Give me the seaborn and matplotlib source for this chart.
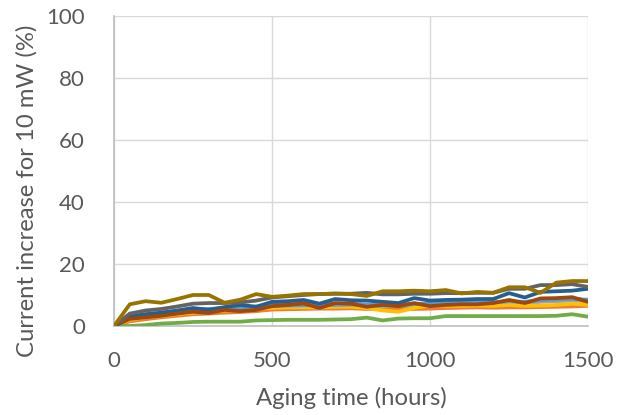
import matplotlib
matplotlib.use("Agg")
import matplotlib.pyplot as plt
import numpy as np
import pandas as pd
import seaborn as sns

# Aging time (hours)
hours = list(range(0, 1501, 50))

blue = [0, 2.8, 3.5, 4.0, 4.6, 5.2, 5.3, 5.8, 5.9, 6.1, 6.8, 7.0, 7.1, 6.8, 7.2, 7.2,
        6.8, 6.5, 5.5, 6.5, 7.0, 7.1, 7.2, 7.3, 7.5, 7.8, 7.6, 8.2, 8.4, 8.8, 8.2]
orange = [0, 1.5, 2.2, 2.8, 3.3, 3.8, 4.0, 4.3, 4.5, 4.8, 5.3, 5.4, 5.5, 5.6, 5.6, 5.7,
          5.5, 5.5, 5.4, 5.5, 5.6, 5.8, 5.9, 6.0, 5.9, 6.0, 6.0, 6.1, 6.2, 6.3, 6.5]
gray = [0, 2.5, 3.2, 3.8, 4.2, 4.8, 5.0, 5.3, 5.5, 5.8, 6.0, 6.1, 6.2, 6.2, 6.3, 6.4,
        6.4, 6.3, 6.5, 6.6, 6.8, 6.9, 7.0, 7.1, 7.1, 7.5, 7.3, 7.8, 8.0, 8.2, 8.0]
yellow = [0, 2.0, 2.8, 3.2, 3.8, 4.3, 4.5, 5.0, 5.2, 5.5, 5.8, 6.0, 6.0, 6.0, 6.2, 6.2,
          5.8, 5.0, 4.6, 5.8, 6.6, 6.5, 6.5, 6.6, 6.5, 6.8, 6.5, 6.6, 6.8, 7.2, 6.8]
light_blue = [0, 2.9, 3.7, 4.3, 4.7, 5.3, 5.5, 5.8, 6.0, 6.3, 6.5, 6.6, 6.7, 6.7, 6.8, 6.9,
              6.9, 6.8, 7.0, 7.1, 7.3, 7.4, 7.5, 7.6, 7.6, 8.0, 7.8, 8.3, 8.5, 8.7, 8.5]
green = [0, 0, 0.3, 0.8, 1.0, 1.3, 1.4, 1.4, 1.4, 1.8, 1.9, 2.0, 2.0, 2.0, 2.1, 2.2,
         2.7, 1.8, 2.4, 2.5, 2.5, 3.2, 3.2, 3.2, 3.2, 3.2, 3.2, 3.2, 3.3, 3.8, 3.0]
dark_blue = [0, 3.0, 3.8, 4.3, 5.0, 5.8, 5.2, 6.1, 6.8, 6.2, 7.8, 8.0, 8.4, 7.2, 8.7, 8.3,
             8.2, 7.8, 7.4, 9.0, 8.2, 8.4, 8.5, 8.7, 8.7, 10.6, 9.2, 11.0, 11.2, 11.4, 12.0]
brown = [0, 2.3, 2.8, 3.3, 4.0, 4.6, 4.2, 5.2, 4.8, 5.2, 6.4, 6.8, 7.3, 5.8, 7.4, 7.2,
         6.2, 6.8, 6.4, 7.4, 6.4, 6.8, 7.0, 7.0, 7.4, 8.4, 7.4, 8.9, 9.0, 9.3, 7.8]
dark_gray = [0, 4.0, 5.0, 5.5, 6.3, 7.2, 7.4, 7.4, 7.6, 8.2, 9.2, 9.6, 10.0, 10.3, 10.4, 10.4,
             10.7, 10.2, 10.2, 10.4, 10.4, 10.6, 10.6, 10.7, 10.7, 12.0, 12.0, 13.2, 13.2, 13.5, 12.6]
olive = [0, 7.0, 8.0, 7.5, 8.7, 10.0, 10.0, 7.5, 8.5, 10.3, 9.4, 9.8, 10.3, 10.3, 10.5, 10.3,
         9.7, 11.2, 11.2, 11.4, 11.2, 11.6, 10.5, 11.0, 10.7, 12.5, 12.5, 10.7, 14.0, 14.5, 14.5]

series_names = ["S1", "S2", "S3", "S4", "S5", "S6", "S7", "S8", "S9", "S10"]
series_values = [blue, orange, gray, yellow, light_blue, green, dark_blue, brown, dark_gray, olive]
series_colors = ["#4472C4", "#ED7D31", "#A5A5A5", "#FFC000", "#5B9BD5",
                 "#70AD47", "#255E91", "#9E480E", "#636363", "#997300"]

x_ticks = [0, 500, 1000, 1500]
y_ticks = [0, 20, 40, 60, 80, 100]

frames = [pd.DataFrame({"hours": hours, "value": vals, "series": name})
          for name, vals in zip(series_names, series_values)]
df = pd.concat(frames, ignore_index=True)

sns.set_style("white")
plt.rcParams["font.family"] = ["Lato", "DejaVu Sans"]

fig = plt.figure(figsize=(6.26, 4.15), dpi=100)
ax = fig.add_axes([114 / 626, 89 / 415, 474 / 626, 310 / 415])

sns.lineplot(data=df, x="hours", y="value", hue="series", hue_order=series_names,
             palette=dict(zip(series_names, series_colors)), linewidth=2.7,
             legend=False, ax=ax, zorder=3)

ax.set_xlim(0, 1500)
ax.set_ylim(0, 100)
ax.set_xticks(x_ticks)
ax.set_yticks(y_ticks)
ax.grid(True, color="#D9D9D9", linewidth=1.0, zorder=0)
ax.set_axisbelow(True)
for side in ["top", "right"]:
    ax.spines[side].set_visible(False)
for side in ["left", "bottom"]:
    ax.spines[side].set_color("#BFBFBF")
    ax.spines[side].set_linewidth(1.2)

ax.tick_params(axis="both", length=0, labelsize=16, labelcolor="#595959")
ax.tick_params(axis="y", pad=21)
ax.tick_params(axis="x", pad=18)
ax.set_xlabel("Aging time (hours)", fontsize=17.2, color="#595959")
ax.set_ylabel("Current increase for 10 mW (%)", fontsize=17.2, color="#595959")
ax.xaxis.set_label_coords(0.5, -0.195)
ax.yaxis.set_label_coords(-0.162, 0.435)

fig.savefig("out.png", dpi=100)
